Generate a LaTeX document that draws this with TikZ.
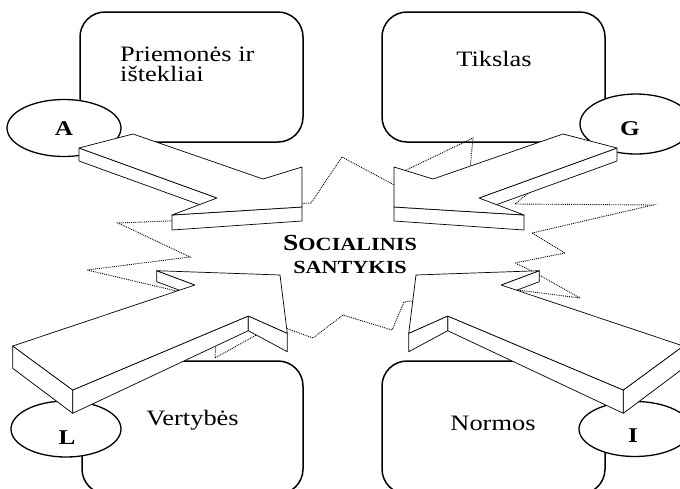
\documentclass[tikz,border=0pt]{standalone}
\usepackage{fontspec}
\setmainfont[FakeStretch=1.2]{Liberation Serif}

\tikzset{
  box/.style={line width=1.5pt, rounded corners=25pt},
  ring/.style={draw, fill=white, line width=1.3pt},
  face/.style={draw, fill=white, line width=0.7pt, line join=round},
  burst/.style={densely dotted, line width=0.9pt},
  caption/.style={inner sep=0pt, font=\fontsize{22}{20}\selectfont},
  letter/.style={inner sep=0pt, font=\bfseries\fontsize{21}{21}\selectfont},
}

\begin{document}
\begin{tikzpicture}[x=1pt, y=-1pt]
  \useasboundingbox (0,0) rectangle (680,488);
  \clip (0,0) rectangle (680,488);

  % Draw the four boxes
  \draw[box] (80,12) rectangle (303,142);
  \draw[box] (382,12) rectangle (605,142);
  \draw[box] (82,361) rectangle (303,494);
  \draw[box] (382,361) rectangle (605,494);

  % Draw the ellipses A, G, L, I
  \path[ring] (64,128) ellipse [x radius=57, y radius=28.5];
  \path[ring] (636,124) ellipse [x radius=56, y radius=30];
  \path[ring] (66,429) ellipse [x radius=55, y radius=28];
  \path[ring] (635,429) ellipse [x radius=56, y radius=27.5];

  % The dotted burst round the centre
  \draw[burst] (295,204) -- (311,203) -- (342,157) -- (398,187) -- (400,173)
    -- (473,138) -- (470,170) -- (540,183.5) -- (515,204) -- (653,205)
    -- (532,233) -- (565,253) -- (515,263) -- (532,271) -- (580,298)
    -- (510,289) -- (420,300) -- (404,302) -- (392,330) -- (343,315)
    -- (313,338) -- (280,326) -- (258,334) -- (215,358) -- (216,340)
    -- (185,293) -- (87,270) -- (190,257) -- (118,223) -- (180,220.5) -- cycle;

  % Draw the arrows, right ones mirrored
  \foreach \dx/\s in {0/1, 696/-1} {
    \begin{scope}[xshift=\dx pt, xscale=\s]
      % upper arrow
      \path[face] (79,148) -- (217,198) -- (217,211) -- (79,161) -- cycle;
      \path[face] (172,215) -- (302,207) -- (302,221) -- (172,230) -- cycle;
      \path[face] (79,148) -- (133,134) -- (263,179) -- (302,167) -- (302,207)
        -- (172,215) -- (217,198) -- cycle;
      % lower arrow
      \path[face] (12.7,346) -- (72.7,390) -- (72.7,413.3) -- (12.7,368.3) -- cycle;
      \path[face] (72.7,390) -- (248.3,316) -- (248.3,330.7) -- (72.7,413.3) -- cycle;
      \path[face] (248.3,316) -- (287.3,333.3) -- (287.3,351.7) -- (248.3,330.7) -- cycle;
      \path[face] (156.7,270.7) -- (195,285) -- (195,296) -- (156.7,281.7) -- cycle;
      \path[face] (12.7,346) -- (195,285) -- (156.7,270.7) -- (280,275)
        -- (287.3,333.3) -- (248.3,316) -- (72.7,390) -- cycle;
    \end{scope}
  }

  % Texts
  \node[caption, align=left, anchor=north west] (means) at (120,47) {Priemonės ir\\ištekliai};
  \node[caption, anchor=base] (goal) at (494,66.5) {Tikslas};
  \node[caption, anchor=base] (values) at (192.5,425.5) {Vertybės};
  \node[caption, anchor=base] (norms) at (493,430.5) {Normos};

  \node[letter, anchor=base] (a) at (64,135) {A};
  \node[letter, anchor=base] (g) at (630,135) {G};
  \node[letter, anchor=base] (l) at (67,444) {L};
  \node[letter, anchor=base] (i) at (633,442) {I};

  \node[align=center, anchor=north, inner sep=0pt,
    font=\bfseries\fontsize{18.5}{23}\selectfont] (relation) at (350,235)
    {{\fontsize{23}{23}\selectfont S}OCIALINIS\\SANTYKIS};
\end{tikzpicture}
\end{document}
